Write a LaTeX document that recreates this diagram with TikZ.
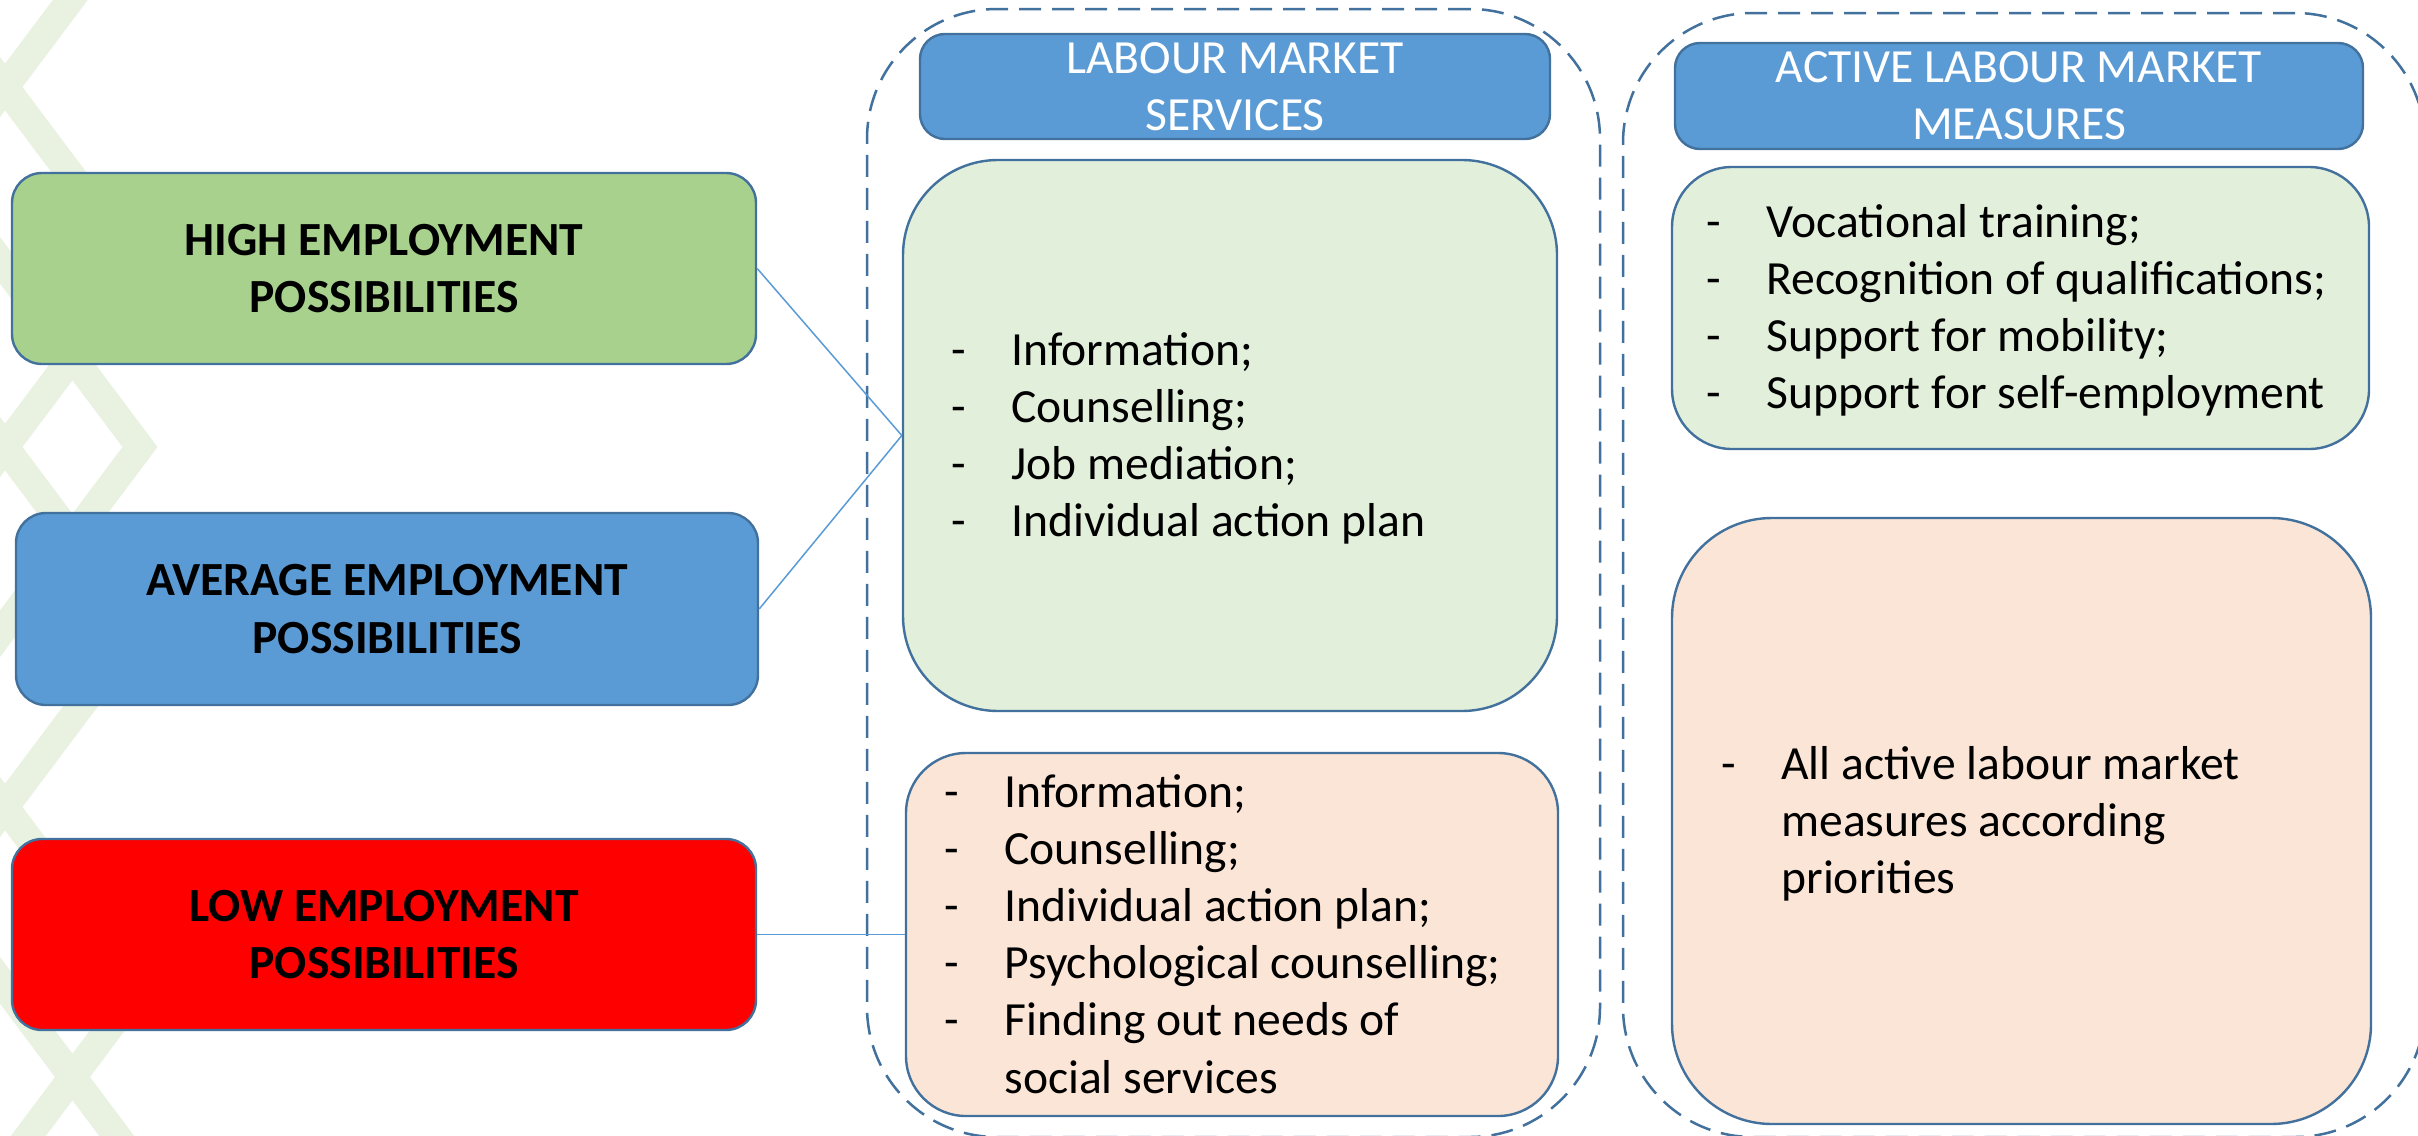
\documentclass[tikz,border=0pt]{standalone}
\usepackage{fontspec}
\setmainfont{Carlito}
\definecolor{edgeblue}{HTML}{41719C}
\definecolor{highgreen}{HTML}{A9D18E}
\definecolor{midblue}{HTML}{5B9BD5}
\definecolor{lowred}{HTML}{FF0000}
\definecolor{palegreen}{HTML}{E2EFDA}
\definecolor{palepeach}{HTML}{FBE5D6}
\definecolor{latticegreen}{HTML}{E9F2E1}
\begin{document}
\begin{tikzpicture}[x=0.5pt,y=-0.5pt,
  catbox/.style={draw=edgeblue,line width=1.2pt,rounded corners=15pt,minimum width=372pt,minimum height=95.5pt,inner sep=0pt,align=center,font=\fontsize{23.8}{28.6}\selectfont\bfseries},
  headbox/.style={draw=edgeblue,line width=1.2pt,fill=midblue,rounded corners=12.5pt,inner sep=0pt,align=center,text=white,font=\fontsize{23.8}{28.6}\selectfont},
  itembox/.style={draw=edgeblue,line width=1.2pt,inner sep=0pt},
  outerframe/.style={draw=edgeblue,line width=1.25pt,dash pattern=on 11pt off 5.5pt,rounded corners=65pt,inner sep=0pt},
  link/.style={draw=midblue,line width=0.75pt},
  bl/.style={anchor=base west,inner sep=0pt,font=\fontsize{23.8}{28.6}\selectfont},
  latticeline/.style={draw=latticegreen,line width=14pt,line join=miter}
]
\useasboundingbox (0,0) rectangle (2418,1135);
\clip (0,0) rectangle (2418,1135);
\fill[white] (0,0) rectangle (2418,1135);
% background lattice
\draw[latticeline] (140,-273) -- (-130,87) -- (140,447) -- (-130,807) -- (140,1167);
\draw[latticeline] (-130,-93) -- (140,267) -- (-130,627) -- (140,987) -- (-130,1347);
\draw[latticeline] (140,-93) -- (-130,267) -- (140,627) -- (-130,987) -- (140,1347);
% dashed frames
\node[outerframe,minimum width=366.5pt,minimum height=564pt] (lmsframe) at (1233.5,573) {};
\node[outerframe,minimum width=401pt,minimum height=562pt] (almframe) at (2024,575) {};
% category boxes
\node[catbox,fill=highgreen] (high) at (384,268.5) {HIGH EMPLOYMENT\\POSSIBILITIES};
\node[catbox,fill=midblue,minimum width=371pt,minimum height=96pt] (avgp) at (387,609) {AVERAGE EMPLOYMENT\\POSSIBILITIES};
\node[catbox,fill=lowred] (low) at (384,934.5) {LOW EMPLOYMENT\\POSSIBILITIES};
% headers
\node[headbox,minimum width=315pt,minimum height=52.5pt] (lmshead) at (1235,86.5) {LABOUR MARKET\\SERVICES};
\node[headbox,minimum width=344pt,minimum height=53pt] (almhead) at (2019,96) {ACTIVE LABOUR MARKET\\MEASURES};
% item boxes
\node[itembox,fill=palegreen,rounded corners=47.5pt,minimum width=327pt,minimum height=275.5pt] (lmsg) at (1230,435.5) {};
\node[itembox,fill=palepeach,rounded corners=30pt,minimum width=326pt,minimum height=181.5pt] (lmsp) at (1232,934.5) {};
\node[itembox,fill=palegreen,rounded corners=30pt,minimum width=348.5pt,minimum height=141pt] (almg) at (2020.5,308) {};
\node[itembox,fill=palepeach,rounded corners=50pt,minimum width=349.5pt,minimum height=303pt] (almp) at (2021.5,821) {};
% lists
\node[bl] (lmsgtxt) at (951,365) {\begin{tabular}[t]{@{}l@{}l@{}}
\makebox[30pt][l]{-} & Information;\\
\makebox[30pt][l]{-} & Counselling;\\
\makebox[30pt][l]{-} & Job mediation;\\
\makebox[30pt][l]{-} & Individual action plan
\end{tabular}};
\node[bl] (lmsptxt) at (944,807) {\begin{tabular}[t]{@{}l@{}l@{}}
\makebox[30pt][l]{-} & Information;\\
\makebox[30pt][l]{-} & Counselling;\\
\makebox[30pt][l]{-} & Individual action plan;\\
\makebox[30pt][l]{-} & Psychological counselling;\\
\makebox[30pt][l]{-} & Finding out needs of\\
 & social services
\end{tabular}};
\node[bl] (almgtxt) at (1706,237) {\begin{tabular}[t]{@{}l@{}l@{}}
\makebox[30pt][l]{-} & Vocational training;\\
\makebox[30pt][l]{-} & Recognition of qualifications;\\
\makebox[30pt][l]{-} & Support for mobility;\\
\makebox[30pt][l]{-} & Support for self-employment
\end{tabular}};
\node[bl] (almptxt) at (1721,779) {\begin{tabular}[t]{@{}l@{}l@{}}
\makebox[30pt][l]{-} & All active labour market\\
 & measures according\\
 & priorities
\end{tabular}};
% connectors
\draw[link] (high.east) -- (lmsg.west);
\draw[link] (avgp.east) -- (lmsg.west);
\draw[link] (low.east) -- (lmsp.west);
\end{tikzpicture}
\end{document}
